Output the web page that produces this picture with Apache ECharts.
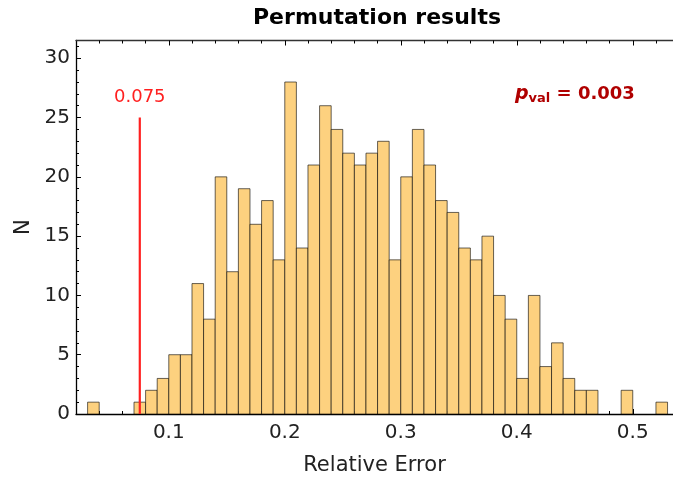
<!DOCTYPE html>
<html>
<head>
<meta charset="utf-8">
<script src="https://cdn.jsdelivr.net/npm/echarts@6/dist/echarts.min.js"></script>
<style>
html,body{margin:0;padding:0;background:#ffffff;}
#chart{width:673px;height:478px;}
</style>
</head>
<body>
<div id="chart"></div>
<script>
// ---- data ----
const binWidth = 0.01;
const binStarts = [0.03, 0.07, 0.08, 0.09, 0.10, 0.11, 0.12, 0.13, 0.14, 0.15, 0.16, 0.17, 0.18, 0.19,
  0.20, 0.21, 0.22, 0.23, 0.24, 0.25, 0.26, 0.27, 0.28, 0.29, 0.30, 0.31, 0.32, 0.33, 0.34, 0.35,
  0.36, 0.37, 0.38, 0.39, 0.40, 0.41, 0.42, 0.43, 0.44, 0.45, 0.46, 0.49, 0.52];
const counts = [1, 1, 2, 3, 5, 5, 11, 8, 20, 12, 19, 16, 18, 13,
  28, 14, 21, 26, 24, 22, 21, 22, 23, 13, 20, 24, 21, 18, 17, 14,
  13, 15, 10, 8, 3, 10, 4, 6, 3, 2, 2, 2, 1];
const xMajorTicks = [0.1, 0.2, 0.3, 0.4, 0.5];
const xMinorTicks = [0.04, 0.06, 0.08, 0.12, 0.14, 0.16, 0.18, 0.22, 0.24, 0.26, 0.28,
  0.32, 0.34, 0.36, 0.38, 0.42, 0.44, 0.46, 0.48, 0.52];
const yMajorTicks = [0, 5, 10, 15, 20, 25, 30];
const yMinorTicks = [1, 2, 3, 4, 6, 7, 8, 9, 11, 12, 13, 14, 16, 17, 18, 19, 21, 22, 23, 24, 26, 27, 28, 29, 31];
const observedValue = 0.075;
const observedLineTop = 25;
const observedLabel = '0.075';
const pValueText = '0.003';
const titleText = 'Permutation results';
const xName = 'Relative Error';
const yName = 'N';

// ---- chart ----
const FONT = 'DejaVu Sans';
const X_MIN = 0.02, X_MAX = 0.5347, Y_MIN = 0, Y_MAX = 31.5;
const chart = echarts.init(document.getElementById('chart'), null, {renderer: 'canvas'});

function tickAxis(pos, ticks, len, showLine, lineColor, labels) {
  return {
    type: 'value', position: pos, min: X_MIN, max: X_MAX,
    axisLine: {show: showLine, onZero: false, lineStyle: {color: lineColor, width: 1.3}},
    axisTick: {show: true, inside: true, length: len, customValues: ticks, lineStyle: {color: '#000', width: 1}},
    axisLabel: labels ? {
      show: true, customValues: ticks, margin: 9, color: '#222', fontFamily: FONT, fontSize: 20,
      formatter: v => v.toFixed(1)
    } : {show: false},
    splitLine: {show: false}, minorTick: {show: false}
  };
}
function yTickAxis(ticks, len, showLine, labels) {
  return {
    type: 'value', position: 'left', min: Y_MIN, max: Y_MAX,
    axisLine: {show: showLine, onZero: false, lineStyle: {color: '#000', width: 1.3}},
    axisTick: {show: true, inside: true, length: len, customValues: ticks, lineStyle: {color: '#000', width: 1}},
    axisLabel: labels ? {
      show: true, customValues: ticks, margin: 6, color: '#222', fontFamily: FONT, fontSize: 20
    } : {show: false},
    splitLine: {show: false}, minorTick: {show: false}
  };
}

const xMain = tickAxis('bottom', xMajorTicks, 5, true, '#000', true);
xMain.name = xName;
xMain.nameLocation = 'middle';
xMain.nameGap = 41;
xMain.nameTextStyle = {fontFamily: FONT, fontSize: 21, color: '#222'};

const yMain = yTickAxis(yMajorTicks, 5, true, true);
yMain.name = yName;
yMain.nameLocation = 'middle';
yMain.nameGap = 41;
yMain.nameRotate = 90;
yMain.nameTextStyle = {fontFamily: FONT, fontSize: 21, color: '#222'};

const option = {
  backgroundColor: '#ffffff',
  animation: false,
  grid: {left: 76, right: 0, top: 40.5, bottom: 64, containLabel: false, outerBoundsMode: 'none'},
  xAxis: [
    xMain,
    tickAxis('bottom', xMinorTicks, 3, false, '#000', false),
    tickAxis('top', xMajorTicks, 5, true, '#333', false),
    tickAxis('top', xMinorTicks, 3, false, '#333', false)
  ],
  yAxis: [
    yMain,
    yTickAxis(yMinorTicks, 3, false, false)
  ],
  graphic: [
    {
      type: 'text', x: 377, y: 18, silent: true,
      style: {text: titleText, font: 'bold 22px "DejaVu Sans"', fill: '#000', textAlign: 'center', textVerticalAlign: 'middle'}
    },
    {
      type: 'text', x: 515, y: 94.5, silent: true,
      style: {
        text: '{p|p}{v|val}{r| = ' + pValueText + '}',
        textVerticalAlign: 'middle',
        rich: {
          p: {fontFamily: FONT, fontSize: 19, fontWeight: 'bold', fontStyle: 'italic', fill: '#b00000', lineHeight: 22},
          v: {fontFamily: FONT, fontSize: 13, fontWeight: 'bold', fill: '#b00000', lineHeight: 14, verticalAlign: 'bottom'},
          r: {fontFamily: FONT, fontSize: 18, fontWeight: 'bold', fill: '#b00000', lineHeight: 22}
        }
      }
    }
  ],
  series: [
    {
      type: 'custom',
      xAxisIndex: 0, yAxisIndex: 0,
      data: binStarts.map((s, i) => [s, counts[i]]),
      encode: {x: 0, y: 1},
      renderItem: function (params, api) {
        const x0 = api.value(0), h = api.value(1);
        const p0 = api.coord([x0, 0]);
        const p1 = api.coord([x0 + binWidth, h]);
        return {
          type: 'rect',
          shape: {x: p0[0], y: p1[1], width: p1[0] - p0[0], height: p0[1] - p1[1]},
          style: {fill: '#fdd17f', stroke: 'rgba(0,0,0,0.6)', lineWidth: 1}
        };
      }
    },
    {
      type: 'line',
      xAxisIndex: 0, yAxisIndex: 0,
      symbol: 'circle', symbolSize: 0,
      lineStyle: {color: '#ff2020', width: 2.2},
      itemStyle: {color: '#ff2020'},
      data: [
        [observedValue, 0],
        {value: [observedValue, observedLineTop], label: {
          show: true, position: 'top', distance: 11, formatter: observedLabel,
          fontFamily: FONT, fontSize: 18, color: '#ff2020'
        }}
      ],
      z: 5
    }
  ]
};
chart.setOption(option);
</script>
</body>
</html>
